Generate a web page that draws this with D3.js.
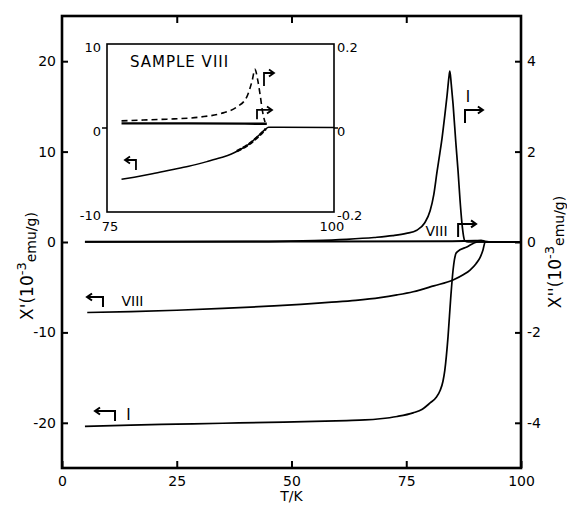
<!DOCTYPE html>
<html><head><meta charset="utf-8">
<script src="https://cdn.jsdelivr.net/npm/d3@7"></script>
<style>
body{margin:0;background:#fff}
text{font-family:"DejaVu Sans",Arial,sans-serif;fill:#000}
</style>
</head><body>
<svg id="c" width="567" height="506"></svg>
<script>
// ---------- data ----------
const xTicks = [0, 25, 50, 75, 100];
const yLeftTicks = [20, 10, 0, -10, -20];
const yRightTicks = [4, 2, 0, -2, -4];
const insetXTicks = [75, 100];
const insetYLeftTicks = [10, 0, -10];
const insetYRightTicks = [0.2, 0, -0.2];

// main: chi' (left axis, 1e-3 emu/g)
const chi1_I = [[5,-20.4],[15,-20.25],[25,-20.15],[35,-20.05],[45,-19.95],[55,-19.85],[62,-19.75],[66,-19.68],[69.3,-19.55],[73,-19.3],[76.5,-18.9],[78.5,-18.5],[80.2,-17.8],[81.5,-17.2],[82.4,-16.4],[83,-15.4],[83.4,-14.2],[84.1,-10.5],[84.7,-6.1],[85.2,-3.1],[85.8,-1.3],[86.1,-1.1],[88.2,-0.55],[90.6,0],[100,0]];
const chi1_VIII = [[5.5,-7.8],[15,-7.7],[25,-7.55],[35,-7.35],[45,-7.1],[52,-6.9],[58,-6.68],[64,-6.45],[69.3,-6.15],[73,-5.85],[76.5,-5.5],[81,-4.85],[85.2,-4.2],[87.5,-3.6],[88.9,-3.1],[90.2,-2.4],[91.1,-1.7],[91.7,-0.9],[92.2,0],[100,0]];
// main: chi'' (right axis, 1e-3 emu/g)
const chi2_I = [[5,0],[45,0.01],[55,0.03],[62,0.06],[68,0.1],[72,0.14],[75,0.19],[77.3,0.26],[79,0.42],[80.2,0.69],[81,1.05],[81.7,1.55],[82.3,1.95],[82.8,2.3],[83.4,2.8],[83.9,3.25],[84.3,3.65],[84.5,3.78],[84.8,3.5],[85.2,3.05],[85.8,2.2],[86.3,1.55],[86.7,0.95],[87.1,0.45],[87.5,0.12],[87.8,0.02],[88.5,0],[100,0]];
const chi2_VIII = [[5,0.005],[40,0.01],[85,0.015],[90,0.025],[91.3,0.035],[92.2,0.01],[93,0],[100,0]];

// inset (sample VIII)
const insetChi1 = [[76.6,-6.1],[78,-5.85],[80,-5.45],[82,-5.0],[84,-4.55],[86,-4.0],[87.5,-3.55],[88.7,-3.1],[89.6,-2.6],[90.4,-2.1],[91.1,-1.5],[91.8,-0.8],[92.4,-0.2],[92.8,0.1],[94,0.1],[100,0.05]];
const insetChi1b = [[89.3,-2.75],[90.4,-2.1],[91.3,-1.35],[92.0,-0.65],[92.5,-0.1]];
const insetChi2flat = [[76.6,0.011],[84,0.011],[92.6,0.010]];
const insetChi2 = [[76.6,0.017],[79,0.019],[81.6,0.021],[85.2,0.026],[87.8,0.036],[89.3,0.05],[90.4,0.074],[91.0,0.114],[91.3,0.14],[91.6,0.114],[91.9,0.074],[92.1,0.043],[92.4,0.014]];

// ---------- drawing ----------
const FONT = '"DejaVu Sans",Arial,sans-serif';
const svg = d3.select('#c');
const x = d3.scaleLinear([0,100],[62,521]);
const yL = d3.scaleLinear([-25,25],[468,16]);
const yR = d3.scaleLinear([-5,5],[468,16]);

const fmt = v => String(v);

function styleAxis(g, fs){
  g.select('.domain').remove();
  g.selectAll('.tick line').attr('stroke','#000').attr('stroke-width',2);
  g.selectAll('.tick text').attr('font-size',fs).attr('font-family',FONT).attr('fill','#000');
}

// axes
svg.append('g').attr('transform',`translate(0,${yL(-25)})`)
  .call(d3.axisBottom(x).tickValues(xTicks).tickSize(-7).tickPadding(8).tickFormat(fmt))
  .call(g=>styleAxis(g,14));
svg.append('g').attr('transform',`translate(0,${yL(25)})`)
  .call(d3.axisTop(x).tickValues([25,50,75]).tickSize(-7).tickFormat(''))
  .call(g=>styleAxis(g,14));
svg.append('g').attr('transform',`translate(${x(0)},0)`)
  .call(d3.axisLeft(yL).tickValues(yLeftTicks).tickSize(-6).tickPadding(6).tickFormat(fmt))
  .call(g=>styleAxis(g,14));
svg.append('g').attr('transform',`translate(${x(100)},0)`)
  .call(d3.axisRight(yR).tickValues(yRightTicks).tickSize(-6).tickPadding(6).tickFormat(fmt))
  .call(g=>styleAxis(g,14));

// frame
svg.append('rect').attr('x',x(0)).attr('y',yL(25)).attr('width',x(100)-x(0)).attr('height',yL(-25)-yL(25))
  .attr('fill','none').attr('stroke','#000').attr('stroke-width',2.6);

// axis titles
svg.append('text').attr('x',x(50)).attr('y',501).attr('text-anchor','middle').attr('font-size',14).text('T/K');
function chiTitle(tx, ty, primes){
  const t = svg.append('text').attr('transform',`translate(${tx},${ty}) rotate(-90)`)
    .attr('text-anchor','middle').attr('font-size',17);
  t.append('tspan').text('X' + primes + '(10');
  t.append('tspan').attr('dy',-7).attr('font-size',13).text('-3');
  t.append('tspan').attr('dy',10).attr('font-size',14).text('emu/g)');
}
chiTitle(33, 266, "'");
chiTitle(561, 252, "''");

const line = (sx, sy) => d3.line().x(d=>sx(d[0])).y(d=>sy(d[1])).curve(d3.curveMonotoneX);

// main curves
const mainG = svg.append('g').attr('fill','none').attr('stroke','#000').attr('stroke-linejoin','round');
mainG.append('path').attr('d', line(x,yR)(chi2_VIII)).attr('stroke-width',2);
mainG.append('path').attr('d', line(x,yR)(chi2_I)).attr('stroke-width',1.7);
mainG.append('path').attr('d', line(x,yL)(chi1_VIII)).attr('stroke-width',1.7);
mainG.append('path').attr('d', line(x,yL)(chi1_I)).attr('stroke-width',1.7);

// hook arrows
function hook(g, xv, yTop, yBot, xTip, sw){
  const dir = Math.sign(xTip - xv);
  g.append('path').attr('d',`M${xv},${yBot}V${yTop}H${xTip}`)
    .attr('fill','none').attr('stroke','#000').attr('stroke-width',sw||2);
  g.append('path').attr('d',`M${xTip-dir*5},${yTop-3.5}L${xTip},${yTop}L${xTip-dir*5},${yTop+3.5}`)
    .attr('fill','none').attr('stroke','#000').attr('stroke-width',sw||2);
}
const ann = svg.append('g');
ann.append('text').attr('x',x(88.45)).attr('y',yR(3.21)).attr('text-anchor','middle').attr('dominant-baseline','central').attr('font-size',15).text('I');
hook(ann, x(87.8), yR(2.92), yR(2.63), x(91.7));
ann.append('text').attr('x',x(81.6)).attr('y',yR(0.24)).attr('text-anchor','middle').attr('dominant-baseline','central').attr('font-size',14).text('VIII');
hook(ann, x(86.3), yR(0.40), yR(0.11), x(90.2));
hook(ann, x(8.93), yL(-6.08), yL(-7.19), x(5.45));
ann.append('text').attr('x',x(15.36)).attr('y',yL(-6.53)).attr('text-anchor','middle').attr('dominant-baseline','central').attr('font-size',14).text('VIII');
hook(ann, x(11.55), yL(-18.7), yL(-19.8), x(7.19));
ann.append('text').attr('x',x(14.5)).attr('y',yL(-19.14)).attr('text-anchor','middle').attr('dominant-baseline','central').attr('font-size',15).text('I');

// ---------- inset ----------
const ix = d3.scaleLinear([75,100],[107,334]);
const iyL = d3.scaleLinear([-10,10],[212,44]);
const iyR = d3.scaleLinear([-0.2,0.2],[212,44]);
const ig = svg.append('g');
ig.append('rect').attr('x',ix(75)).attr('y',iyL(10)).attr('width',ix(100)-ix(75)).attr('height',iyL(-10)-iyL(10))
  .attr('fill','#fff').attr('stroke','#000').attr('stroke-width',1.6);
ig.append('line').attr('x1',ix(75)-5).attr('x2',ix(75)).attr('y1',iyL(0)).attr('y2',iyL(0)).attr('stroke','#000').attr('stroke-width',1.5);
ig.append('line').attr('x1',ix(100)).attr('x2',ix(100)+4).attr('y1',iyR(0)).attr('y2',iyR(0)).attr('stroke','#000').attr('stroke-width',1.5);
insetYLeftTicks.forEach(v=>{
  ig.append('text').attr('x',ix(75)-6).attr('y',iyL(v)+3).attr('text-anchor','end').attr('dominant-baseline','central').attr('font-size',13).text(fmt(v));
});
insetYRightTicks.forEach(v=>{
  ig.append('text').attr('x',ix(100)+3).attr('y',iyR(v)+3).attr('text-anchor','start').attr('dominant-baseline','central').attr('font-size',13).text(fmt(v));
});
insetXTicks.forEach(v=>{
  ig.append('text').attr('x',ix(v)+(v===75?3:-2)).attr('y',iyL(-10)+14).attr('text-anchor','middle').attr('dominant-baseline','central').attr('font-size',13).text(fmt(v));
});
ig.append('text').attr('x',ix(77.53)).attr('y',iyL(7.8)).attr('dominant-baseline','central').attr('font-size',15).attr('letter-spacing',1).text('SAMPLE VIII');

ig.append('path').attr('d', line(ix,iyR)(insetChi2flat)).attr('fill','none').attr('stroke','#000').attr('stroke-width',2.4);
ig.append('path').attr('d', line(ix,iyL)(insetChi1)).attr('fill','none').attr('stroke','#000').attr('stroke-width',1.5);
ig.append('path').attr('d', line(ix,iyL)(insetChi1b)).attr('fill','none').attr('stroke','#000').attr('stroke-width',2.6).attr('stroke-dasharray','5,2');
ig.append('path').attr('d', line(ix,iyR)(insetChi2)).attr('fill','none').attr('stroke','#000').attr('stroke-width',1.6).attr('stroke-dasharray','6,4');

hook(ig, ix(78.19), iyL(-3.81), iyL(-5.0), ix(76.98), 1.8);
hook(ig, ix(92.29), iyR(0.131), iyR(0.10), ix(93.39), 1.8);
hook(ig, ix(91.52), iyR(0.043), iyR(0.021), ix(93.17), 1.8);
</script>
</body></html>
